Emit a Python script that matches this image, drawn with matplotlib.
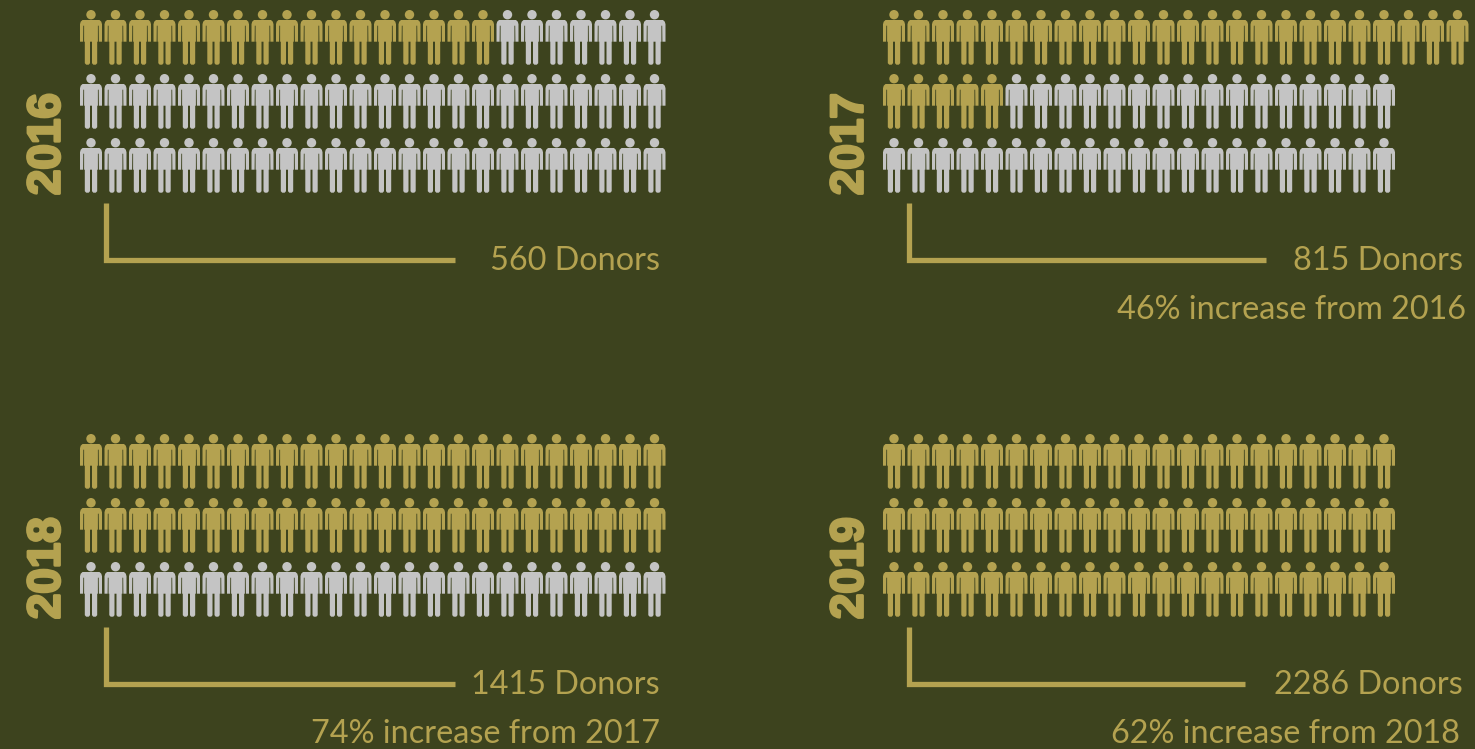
import matplotlib
matplotlib.use("Agg")
import matplotlib.pyplot as plt
import matplotlib.patheffects as pe
from matplotlib.path import Path
from matplotlib.patches import PathPatch, Circle
from matplotlib.transforms import Affine2D

W, H = 1475, 749
BG = "#3d431e"
GOLD = "#b4a250"
GRAY = "#c4c4c4"

years = ["2016", "2017", "2018", "2019"]
row_sizes = [[24, 24, 24], [24, 21, 21], [24, 24, 24], [21, 21, 21]]
gold_counts = [[17, 0, 0], [24, 5, 0], [24, 24, 0], [21, 21, 21]]
donors = ["560 Donors", "815 Donors", "1415 Donors", "2286 Donors"]
increases = ["", "46% increase from 2016", "74% increase from 2017", "62% increase from 2018"]
# where the bracket line stops, one for each panel
line_ends = [455, 1266, 455, 1245]

panel_x = [0, 803, 0, 803]
panel_y = [0, 0, 424, 424]
text_right = [660, 1463, 660, 1463]
text2_right = [660, 1466, 660, 1460]

# one person, in px around the head centre
body = [(-11, 27), (-11, 9.5), (-10.3, 7), (-8.5, 5.3), (8.5, 5.3), (10.3, 7), (11, 9.5), (11, 27), (7.9, 27),
        (7.7, 11), (6.9, 11), (6.9, 27), (6.2, 27), (6.2, 48.5), (4.8, 50), (2.3, 50), (1, 48.5),
        (1, 27), (-1, 27), (-1, 48.5), (-2.3, 50), (-4.8, 50), (-6.2, 48.5), (-6.2, 27), (-6.9, 27),
        (-6.9, 11), (-7.7, 11), (-7.9, 27), (-11, 27)]
body_path = Path(body, closed=True)

fig = plt.figure(figsize=(W / 100, H / 100), dpi=100, facecolor=BG)
ax = fig.add_axes([0, 0, 1, 1])
ax.set_xlim(0, W)
ax.set_ylim(H, 0)
ax.axis("off")

font = ["Lato", "DejaVu Sans"]

for p in range(4):
    ox, oy = panel_x[p], panel_y[p]
    for r in range(3):
        for i in range(row_sizes[p][r]):
            c = GOLD if i < gold_counts[p][r] else GRAY
            cx = ox + 91 + i * 24.5
            cy = oy + 14.7 + r * 64
            ax.add_patch(Circle((cx, cy), 4.7, fc=c, ec="none"))
            ax.add_patch(PathPatch(body_path, fc=c, ec="none",
                                   transform=Affine2D().translate(cx, cy) + ax.transData))
    ax.text(ox + 47.5, oy + 144, years[p], rotation=90, ha="center", va="center", color=GOLD,
            fontsize=33, fontweight="bold", family="Liberation Sans",
            path_effects=[pe.withStroke(linewidth=2, foreground=GOLD)])
    ax.plot([ox + 106, ox + 106, line_ends[p]], [oy + 203, oy + 260, oy + 260], color=GOLD, lw=3.8,
            solid_joinstyle="miter", solid_capstyle="butt")
    ax.text(text_right[p], oy + 261, donors[p], ha="right", va="center", color=GOLD, fontsize=23.3,
            family=font)
    if increases[p]:
        ax.text(text2_right[p], oy + 310, increases[p], ha="right", va="center", color=GOLD, fontsize=23.3,
                family=font)

fig.savefig("out.png", dpi=100, facecolor=BG)
